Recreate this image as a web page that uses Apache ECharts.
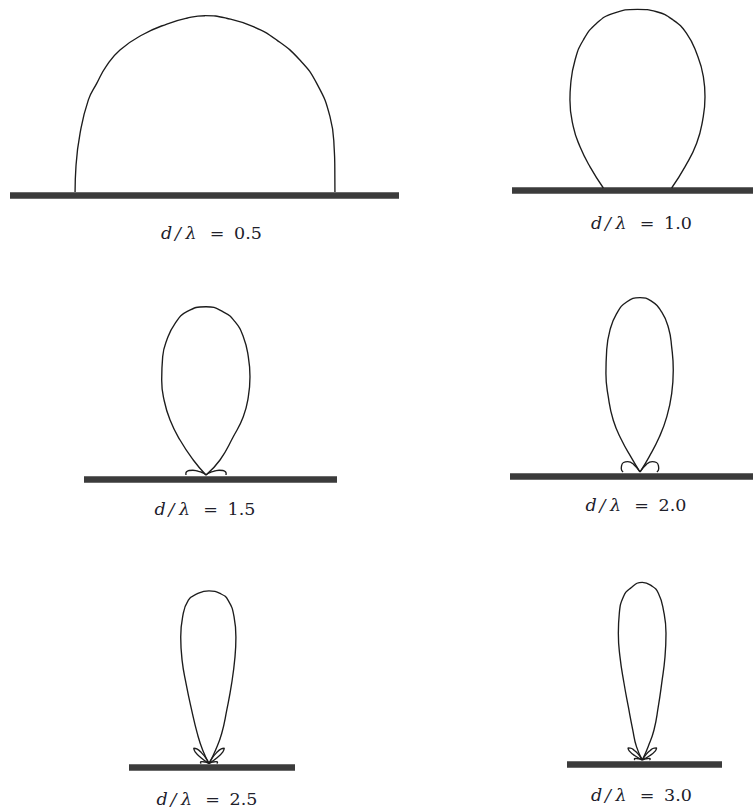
<!DOCTYPE html>
<html>
<head>
<meta charset="utf-8">
<script src="https://cdn.jsdelivr.net/npm/echarts@6/dist/echarts.min.js"></script>
<style>
  html, body { margin: 0; padding: 0; background: #ffffff; }
  #chart { width: 753px; height: 809px; }
</style>
</head>
<body>
<div id="chart"></div>
<script>
// Spacing-to-wavelength ratios, one panel each
const ratios = ['0.5', '1.0', '1.5', '2.0', '2.5', '3.0'];

// Radiation patterns: [elevation angle (deg, 0 = right horizon), relative field]
const lobe05 = [[0,0.737],[11,0.75],[18,0.771],[31.1,0.828],[44.2,0.884],[54.3,0.922],[64.7,0.953],[73.7,0.977],[82.9,0.993],[90,1],
  [96,0.991],[102.8,0.977],[111.5,0.96],[120.9,0.939],[128.3,0.906],[134.9,0.87],[141.7,0.843],[154.8,0.783],[168.9,0.746],[180,0.737]];

const lobe10 = [[0,0.191],[24.2,0.292],[37.1,0.415],[46.2,0.527],[53.5,0.635],[59.4,0.724],[66.3,0.823],[72.4,0.908],[78,0.961],[83.8,0.992],[90,1],
  [97.9,0.987],[103.9,0.95],[110.1,0.882],[116,0.797],[122.5,0.695],[127.5,0.621],[136.3,0.497],[144.3,0.396],[155.8,0.292],[180,0.191]];

const lobe15 = [[44,0],[47,0.122],[54.5,0.279],[57.4,0.411],[61.6,0.529],[65.9,0.64],[70.3,0.746],[74.9,0.851],[79.3,0.927],[84,0.975],[90,1],
  [96.7,0.977],[101.5,0.92],[106.2,0.835],[110.1,0.749],[115,0.623],[119.2,0.511],[123.2,0.39],[126.6,0.259],[130.3,0.117],[136,0]];
const side15R = [[0,0.119],[5,0.12],[10,0.116],[15,0.104],[20,0.083],[25,0.056],[30,0.036],[35,0.018],[40,0]];
const side15L = [[180,0.119],[175,0.12],[170,0.116],[165,0.104],[160,0.083],[155,0.056],[150,0.036],[145,0.018],[140,0]];

const lobe20 = [[57,0],[59,0.1],[61.1,0.229],[64.1,0.35],[68,0.485],[71.9,0.614],[75.8,0.74],[78.8,0.842],[82.3,0.926],[86.3,0.983],[90,1],
  [94.5,0.978],[98.4,0.918],[102,0.83],[105.3,0.724],[109.1,0.597],[112.9,0.467],[117.3,0.334],[120,0.21],[121,0.098],[123,0]];
const side20R = [[0,0.097],[10,0.109],[20,0.112],[30,0.109],[40,0.092],[50,0.057],[57,0]];
const side20L = [[180,0.097],[170,0.109],[160,0.112],[150,0.109],[140,0.092],[130,0.057],[123,0]];

const lobe25 = [[62,0],[64,0.086],[67.1,0.189],[71.6,0.326],[74.2,0.482],[76.3,0.636],[78,0.75],[80.3,0.862],[83.3,0.952],[86.1,0.986],[90,1],
  [93.9,0.986],[97.2,0.954],[100.2,0.863],[102.6,0.751],[104.6,0.619],[106,0.482],[108,0.324],[111.3,0.187],[115.3,0.085],[118,0]];
const side25R = [[32,0],[36,0.06],[40,0.105],[45,0.125],[50,0.11],[55,0.075],[60,0.035],[63,0]];
const side25L = [[148,0],[144,0.06],[140,0.105],[135,0.125],[130,0.11],[125,0.075],[120,0.035],[117,0]];
const low25R = [[0,0.045],[8,0.05],[15,0.043],[21,0.022],[26,0]];
const low25L = [[180,0.045],[172,0.05],[165,0.043],[159,0.022],[154,0]];

const lobe30 = [[64,0],[66.4,0.082],[68.7,0.181],[73.3,0.313],[75.8,0.445],[77.6,0.595],[79.4,0.725],[82,0.853],[84.5,0.943],[86.9,0.981],[90,1],
  [94.1,0.967],[96.6,0.925],[98.9,0.836],[100.7,0.726],[102.2,0.595],[103.4,0.444],[104.7,0.31],[107.6,0.177],[113.6,0.082],[116,0]];
const side30R = [[26,0],[30,0.05],[35,0.09],[40,0.105],[45,0.095],[50,0.07],[55,0.04],[60,0]];
const side30L = [[154,0],[150,0.05],[145,0.09],[140,0.105],[135,0.095],[130,0.07],[125,0.04],[120,0]];
const low30R = [[0,0.04],[7,0.045],[13,0.04],[18,0.02],[22,0]];
const low30L = [[180,0.04],[173,0.045],[167,0.04],[162,0.02],[158,0]];

const panelLobes = [
  [lobe05],
  [lobe10],
  [lobe15, side15R, side15L],
  [lobe20, side20R, side20L],
  [lobe25, side25R, side25L, low25R, low25L],
  [lobe30, side30R, side30L, low30R, low30L]
];

// Panel placement (pixels): pattern origin, scale of unit field, ground extent, label centre
const layout = [
  { ox: 205,   oy: 192,   s: 176.3, gl: 10,  gr: 399, gy: 194.8, lx: 212.5, ly: 233 },
  { ox: 637.5, oy: 188,   s: 178.7, gl: 512, gr: 753, gy: 190.7, lx: 642.5, ly: 223 },
  { ox: 206,   oy: 475,   s: 168.3, gl: 84,  gr: 337, gy: 478.8, lx: 206,   ly: 509 },
  { ox: 640,   oy: 472,   s: 174.4, gl: 510, gr: 753, gy: 475.8, lx: 637,   ly: 505 },
  { ox: 209,   oy: 763.5, s: 172.6, gl: 129, gr: 295, gy: 767,   lx: 208,   ly: 799 },
  { ox: 642.3, oy: 760,   s: 177.7, gl: 567, gr: 722, gy: 764.2, lx: 642.5, ly: 795 }
];

const GROUND = '#3b3b3b';
const INK = '#1c1c1c';
const TEXT = '#20202a';

function toXY(pairs) {
  return pairs.map(([deg, f]) => {
    const a = deg * Math.PI / 180;
    return [f * Math.cos(a), f * Math.sin(a)];
  });
}

function labelText(r) {
  return '{d|d}{s|/}{l|λ}{g| }{e|=}{h| }{n|' + r + '}';
}

const italic = { fontFamily: 'DejaVu Serif', fontStyle: 'italic', fontSize: 17.5, color: TEXT, fill: TEXT, align: 'center' };
const upright = { fontFamily: 'DejaVu Serif', fontSize: 17.5, color: TEXT, fill: TEXT, align: 'center' };
const labelRich = {
  d: Object.assign({}, italic, { width: 11 }),
  s: Object.assign({}, italic, { width: 12 }),
  l: Object.assign({}, italic, { width: 14 }),
  g: Object.assign({}, upright, { width: 9 }),
  e: Object.assign({}, upright, { width: 20 }),
  h: Object.assign({}, upright, { width: 5 }),
  n: Object.assign({}, upright, { width: 32 })
};

const grid = [], xAxis = [], yAxis = [], series = [], graphic = [];

layout.forEach((p, i) => {
  const top = p.oy - p.s * 1.03;
  grid.push({ left: p.gl, top: top, width: p.gr - p.gl, height: p.gy - top, containLabel: false, outerBoundsMode: 'none' });
  xAxis.push({
    gridIndex: i, type: 'value',
    min: (p.gl - p.ox) / p.s, max: (p.gr - p.ox) / p.s,
    axisLine: { show: true, onZero: false, lineStyle: { color: GROUND, width: 6.6, cap: 'butt' } },
    axisTick: { show: false }, axisLabel: { show: false }, splitLine: { show: false }
  });
  yAxis.push({
    gridIndex: i, type: 'value', show: false,
    min: -(p.gy - p.oy) / p.s, max: 1.03,
    splitLine: { show: false }
  });
  panelLobes[i].forEach(lobe => {
    series.push({
      type: 'line', xAxisIndex: i, yAxisIndex: i,
      data: toXY(lobe),
      showSymbol: false, symbol: 'none',
      smooth: 0.5, clip: false, silent: true,
      lineStyle: { color: INK, width: 1.35 },
      z: 3
    });
  });
  graphic.push({
    type: 'text', x: p.lx, y: p.ly,
    style: {
      text: labelText(ratios[i]),
      align: 'center', verticalAlign: 'middle',
      rich: labelRich
    }
  });
});

const chart = echarts.init(document.getElementById('chart'), null, { renderer: 'svg' });
chart.setOption({
  animation: false,
  backgroundColor: '#ffffff',
  grid, xAxis, yAxis, series, graphic
});
</script>
</body>
</html>
